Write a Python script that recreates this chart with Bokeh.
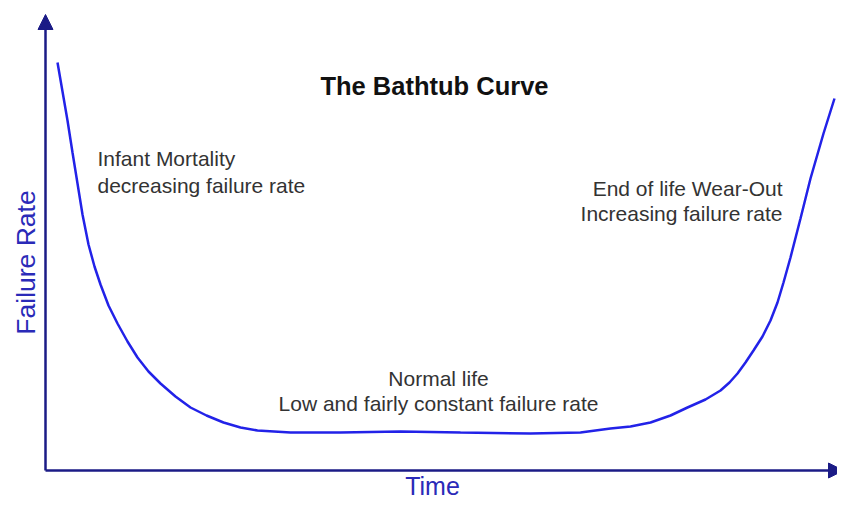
from bokeh.plotting import figure
from bokeh.models import Range1d, Arrow, NormalHead, Label
from bokeh.embed import file_html
from bokeh.resources import INLINE
import math

# Curve readings (arbitrary units: time along the horizontal axis, failure rate up)
time = [12, 17, 22, 27, 32, 37, 43, 49, 55, 63, 72, 82, 92, 103, 115, 130, 145, 161, 178, 195,
        212, 245, 295, 355, 415, 485, 535, 565, 585, 605, 625, 642, 660, 675, 684, 692, 700,
        708, 717, 725, 732, 738, 745, 755, 765, 778, 789]
rate = [408, 379, 350, 318, 287, 256, 226, 204, 186, 165, 147, 129, 113, 99, 87, 74, 63, 55, 48,
        43, 40, 38, 38, 39, 38, 37, 38, 42, 44, 48, 55, 63, 71, 80, 88, 97, 108, 120, 134, 150,
        168, 188, 213, 252, 292, 337, 372]

title_text = "The Bathtub Curve"
x_label = "Time"
y_label = "Failure Rate"
phase_left = ["Infant Mortality", "decreasing failure rate"]
phase_mid = ["Normal life", "Low and fairly constant failure rate"]
phase_right = ["End of life Wear-Out", "Increasing failure rate"]

FONT = "Liberation Sans"
TXT = "#333333"
AXC = "#1b1b86"
CURVE = "#2222e8"
LBL = "#2a2ab8"

p = figure(width=837, height=499, output_backend="svg", toolbar_location=None,
           x_range=Range1d(-45, 792), y_range=Range1d(-29, 470), min_border=0)
p.axis.visible = False
p.grid.visible = False
p.outline_line_color = None
p.background_fill_color = "white"

# axes with arrow heads
p.add_layout(Arrow(x_start=0, y_start=0, x_end=0, y_end=456, line_color=AXC, line_width=2.5,
                   end=NormalHead(size=15, fill_color=AXC, line_color=AXC)))
p.add_layout(Arrow(x_start=0, y_start=0, x_end=798, y_end=0, line_color=AXC, line_width=2.5,
                   end=NormalHead(size=15, fill_color=AXC, line_color=AXC)))

p.line(time, rate, line_color=CURVE, line_width=2.5)

def lab(x, y, t, size, align="left", bold=False, color=TXT, angle=0):
    p.add_layout(Label(x=x, y=y, text=t, text_font=FONT, text_font_size=f"{size}px",
                       text_color=color, text_align=align, text_baseline="middle",
                       text_font_style="bold" if bold else "normal", angle=angle))

lab(389, 385, title_text, 25.5, align="center", bold=True, color="#111111")
lab(52, 312, phase_left[0], 21)
lab(52, 285, phase_left[1], 21)
lab(737, 282, phase_right[0], 21, align="right")
lab(737, 257, phase_right[1], 21, align="right")
lab(393, 92, phase_mid[0], 21, align="center")
lab(393, 67, phase_mid[1], 21, align="center")
lab(387, -15, x_label, 25, align="center", color=LBL)
lab(-20, 208, y_label, 26.5, align="center", color=LBL, angle=math.pi / 2)

open("out.html", "w").write(file_html(p, INLINE))
